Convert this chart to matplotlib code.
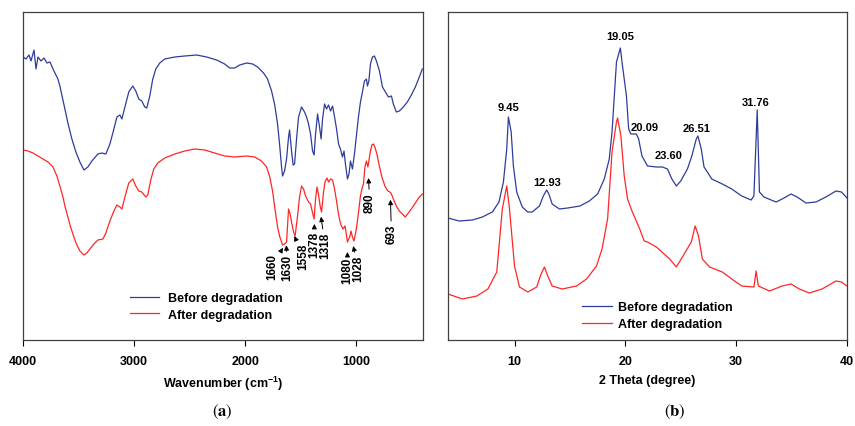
import matplotlib
matplotlib.use('Agg')
import matplotlib.pyplot as plt
import numpy as np

plt.rcParams['font.family'] = ['Liberation Sans', 'DejaVu Sans']
plt.rcParams['mathtext.fontset'] = 'custom'
plt.rcParams['mathtext.rm'] = 'Liberation Sans:bold'
plt.rcParams['mathtext.bf'] = 'Liberation Sans:bold'

# --- (a) FTIR spectra (wavenumber, arbitrary transmittance units) ---
ftir_wn = [4000, 3973, 3946, 3928, 3901, 3883, 3865, 3838, 3811, 3784, 3757, 3730, 3703, 3686,
           3668, 3650, 3623, 3596, 3560, 3524, 3488, 3452, 3416, 3380, 3326, 3290, 3254, 3218,
           3182, 3155, 3128, 3110, 3083, 3048, 3012, 2985, 2958, 2931, 2904, 2886, 2859, 2832,
           2805, 2769, 2724, 2634, 2544, 2437, 2347, 2257, 2185, 2140, 2095, 2050, 1987, 1933,
           1889, 1835, 1799, 1763, 1736, 1709, 1691, 1673, 1664, 1646, 1628, 1610, 1601, 1583,
           1569, 1556, 1538, 1520, 1493, 1466, 1448, 1430, 1412, 1394, 1380, 1367, 1349, 1331,
           1317, 1304, 1286, 1268, 1250, 1232, 1214, 1196, 1178, 1160, 1143, 1125, 1111, 1098,
           1080, 1066, 1053, 1035, 1017, 999, 981, 963, 945, 927, 909, 900, 887, 873, 855, 837,
           819, 792, 765, 738, 711, 684, 667, 640, 613, 577, 541, 505, 469, 433, 406]
ftir_before = [283, 281, 285, 279, 290, 271, 283, 279, 282, 277, 278, 271, 265, 261,
               254, 245, 231, 217, 201, 188, 178, 170, 173, 179, 186, 187, 186, 196,
               211, 223, 225, 221, 233, 248, 254, 249, 241, 239, 233, 232, 244, 261,
               271, 277, 281, 283, 284, 285, 283, 280, 276, 272, 272, 275, 277, 276,
               273, 267, 261, 249, 236, 216, 196, 173, 164, 169, 181, 203, 210, 189,
               175, 176, 201, 223, 233, 228, 223, 216, 206, 189, 185, 206, 226, 213,
               201, 221, 236, 231, 235, 229, 234, 223, 211, 196, 191, 183, 189, 176,
               161, 166, 179, 171, 186, 204, 223, 238, 248, 259, 261, 254, 259, 276, 283, 284,
               279, 269, 253, 248, 243, 244, 236, 228, 229, 233, 238, 245, 253, 263, 271]

ftir_wn2 = [4000, 3955, 3910, 3865, 3820, 3775, 3730, 3695, 3668, 3640, 3623, 3596, 3569, 3542,
            3515, 3488, 3452, 3425, 3398, 3362, 3326, 3281, 3254, 3218, 3182, 3155, 3128, 3110,
            3083, 3048, 3012, 2985, 2958, 2931, 2895, 2877, 2850, 2823, 2787, 2724, 2634, 2544,
            2455, 2365, 2275, 2185, 2095, 1987, 1915, 1853, 1808, 1781, 1754, 1736, 1709, 1691,
            1664, 1646, 1628, 1610, 1596, 1583, 1565, 1551, 1529, 1511, 1493, 1475, 1457, 1430,
            1412, 1398, 1380, 1367, 1354, 1340, 1326, 1313, 1295, 1282, 1264, 1250, 1232, 1214,
            1196, 1178, 1165, 1152, 1138, 1120, 1102, 1089, 1080, 1057, 1048, 1035, 1021, 1003,
            990, 977, 963, 950, 936, 923, 909, 896, 887, 873, 860, 846, 833, 815, 797, 770,
            743, 716, 698, 684, 667, 640, 613, 586, 559, 532, 505, 469, 433, 406]
ftir_after = [190, 189, 187, 184, 181, 178, 173, 164, 154, 143, 134, 123, 112, 103,
              95, 89, 85, 87, 91, 96, 100, 101, 107, 119, 129, 135, 133, 131,
              143, 157, 161, 154, 149, 148, 143, 145, 160, 171, 177, 182, 186, 189,
              191, 190, 187, 184, 183, 184, 183, 179, 173, 164, 149, 134, 113, 104,
              95, 96, 98, 131, 126, 118, 108, 104, 124, 143, 154, 151, 144, 138,
              136, 129, 121, 141, 153, 145, 134, 128, 148, 158, 162, 158, 161, 160,
              151, 139, 129, 121, 115, 111, 114, 105, 98, 104, 109, 103, 99, 109,
              119, 131, 144, 151, 156, 173, 179, 173, 179, 189, 195, 196, 193, 186, 176, 163,
              154, 149, 148, 146, 141, 134, 129, 126, 123, 127, 131, 137, 143, 146]

ftir_marks = ['1660', '1630', '1558', '1378', '1318', '1080', '1028', '890', '693']

# --- (b) XRD patterns (2 theta, arbitrary intensity) ---
xrd_tt = [4.0, 5.0, 6.2, 7.1, 8.0, 8.6, 9.0, 9.3, 9.45, 9.7, 9.9, 10.2, 10.7, 11.2, 11.6,
          12.25, 12.6, 12.9, 13.1, 13.4, 14.05, 14.8, 15.9, 16.75, 17.5, 18.1, 18.55, 18.8,
          19.2, 19.55, 19.7, 20.1, 20.3, 20.5, 21.0, 21.2, 21.5, 22.0, 22.8, 23.35, 23.8,
          24.2, 24.6, 25.0, 25.6, 26.0, 26.4, 26.55, 26.85, 27.1, 27.4, 27.8, 28.75, 29.6,
          30.5, 31.35, 31.6, 31.9, 32.1, 32.5, 33.6, 34.15, 34.95, 35.5, 36.3, 37.2, 38.1,
          39.0, 39.5, 40.0]
xrd_before = [122, 119, 120, 123, 128, 138, 158, 191, 223, 208, 174, 148, 133, 128, 128,
              134, 144, 150, 146, 136, 131, 132, 134, 139, 146, 161, 181, 208,
              278, 292, 278, 244, 211, 206, 206, 201, 184, 174, 173, 173, 171,
              161, 154, 159, 171, 184, 201, 204, 191, 173, 168, 161, 156, 151,
              144, 140, 144, 230, 148, 143, 138, 141, 146, 143, 137, 138, 143,
              149, 148, 142]

xrd_tt2 = [4.0, 5.3, 6.6, 7.6, 8.4, 8.9, 9.3, 9.55, 10.0, 10.45, 11.2, 12.0, 12.4, 12.7,
           13.0, 13.4, 14.3, 15.6, 16.5, 17.4, 17.9, 18.4, 18.8, 19.2, 19.3, 19.6, 19.9,
           20.2, 20.6, 21.3, 21.7, 22.0, 22.8, 23.3, 24.0, 24.6, 25.15, 25.95, 26.3, 26.6,
           26.95, 27.6, 28.75, 29.6, 30.5, 31.6, 31.8, 32.0, 33.0, 34.15, 34.95, 35.7,
           36.6, 37.75, 39.0, 39.5, 40.0]
xrd_after = [46, 41, 44, 51, 68, 131, 154, 131, 74, 53, 48, 53, 66, 73,
             64, 54, 51, 54, 61, 74, 91, 121, 188, 218, 222, 204, 164,
             141, 129, 111, 99, 98, 93, 88, 81, 73, 83, 98, 114, 104,
             81, 73, 68, 61, 54, 53, 69, 54, 49, 54, 56, 51,
             47, 51, 59, 58, 54]

xrd_peaks = ['9.45', '12.93', '19.05', '20.09', '23.60', '26.51', '31.76']

blue = '#2F3C9A'
red = '#FF2626'

fig = plt.figure(figsize=(8.55, 4.27), dpi=100)
ax1 = fig.add_axes([23 / 855, 86 / 427, 400 / 855, 328 / 427])
ax2 = fig.add_axes([448 / 855, 86 / 427, 399 / 855, 328 / 427])

ax1.plot(ftir_wn, ftir_before, color=blue, lw=0.9, label='Before degradation')
ax1.plot(ftir_wn2, ftir_after, color=red, lw=0.9, label='After degradation')
ax1.set_xlim(4000, 400)
ax1.set_ylim(0, 328)

# arrows under the after-degradation bands: (text dx px, gap below curve, text distance px)
mark_style = [(-11, 3, 5), (1, 3, 9), (9, 2, 7), (0, 8, 7), (4, 7, 15),
              (0, 10, 5), (5, 7, 9), (1, 15, 14), (1, 7, 24)]
wn_inc = np.array(ftir_wn2[::-1], dtype=float)
after_inc = np.array(ftir_after[::-1], dtype=float)
for lab, (dx, gap, dist) in zip(ftir_marks, mark_style):
    wn = float(lab)
    yc = np.interp(wn, wn_inc, after_inc)
    ax1.annotate(lab, xy=(wn, yc - gap), xytext=(dx, -dist), textcoords='offset pixels',
                 rotation=90, ha='center', va='top', fontsize=8.5, fontweight='bold',
                 arrowprops=dict(arrowstyle='-|>', color='black', lw=0.7,
                                 mutation_scale=7, shrinkA=0, shrinkB=0))

ax2.plot(xrd_tt, xrd_before, color=blue, lw=0.9, label='Before degradation')
ax2.plot(xrd_tt2, xrd_after, color=red, lw=0.9, label='After degradation')
ax2.set_xlim(4, 40)
ax2.set_ylim(0, 328)

# peak labels: (x position, pixels above local max)
peak_style = [(9.45, 5), (12.9, 3), (19.5, 7), (21.7, 24), (23.9, 9), (26.4, 3), (31.8, 3)]
tt_arr = np.array(xrd_tt)
bef_arr = np.array(xrd_before)
for lab, (xp, up) in zip(xrd_peaks, peak_style):
    near = np.abs(tt_arr - xp) <= 0.35
    ymax = bef_arr[near].max()
    ax2.annotate(lab, xy=(xp, ymax), xytext=(0, up), textcoords='offset pixels',
                 ha='center', va='bottom', fontsize=8, fontweight='bold')

for ax in (ax1, ax2):
    ax.set_yticks([])
    ax.tick_params(axis='x', direction='out', length=4, width=0.8, pad=7,
                   labelsize=9)
    for t in ax.get_xticklabels():
        t.set_fontweight('bold')
    for s in ax.spines.values():
        s.set_color('#404040')
        s.set_linewidth(0.9)

ax1.set_xticks([4000, 3000, 2000, 1000])
ax2.set_xticks([10, 20, 30, 40])
for ax in (ax1, ax2):
    for t in ax.get_xticklabels():
        t.set_fontweight('bold')

ax1.set_xlabel(r'Wavenumber (cm$^{-1}$)', fontsize=9, fontweight='bold', labelpad=5)
ax2.set_xlabel('2 Theta (degree)', fontsize=9, fontweight='bold', labelpad=5)

ax1.legend(loc='upper left', bbox_to_anchor=(0.2675, 0.145), frameon=False,
           prop={'size': 9, 'weight': 'bold'}, handlelength=2.3, handletextpad=0.7,
           borderpad=0, borderaxespad=0, labelspacing=0.35)
ax2.legend(loc='upper left', bbox_to_anchor=(0.336, 0.118), frameon=False,
           prop={'size': 9, 'weight': 'bold'}, handlelength=2.4, handletextpad=0.5,
           borderpad=0, borderaxespad=0, labelspacing=0.4)

fig.text(222 / 855, 1 - 412 / 427, r'$(\mathbf{a})$', ha='center', va='center',
         fontsize=12, math_fontfamily='stix')
fig.text(675 / 855, 1 - 412 / 427, r'$(\mathbf{b})$', ha='center', va='center',
         fontsize=12, math_fontfamily='stix')

fig.savefig('out.png', dpi=100)
